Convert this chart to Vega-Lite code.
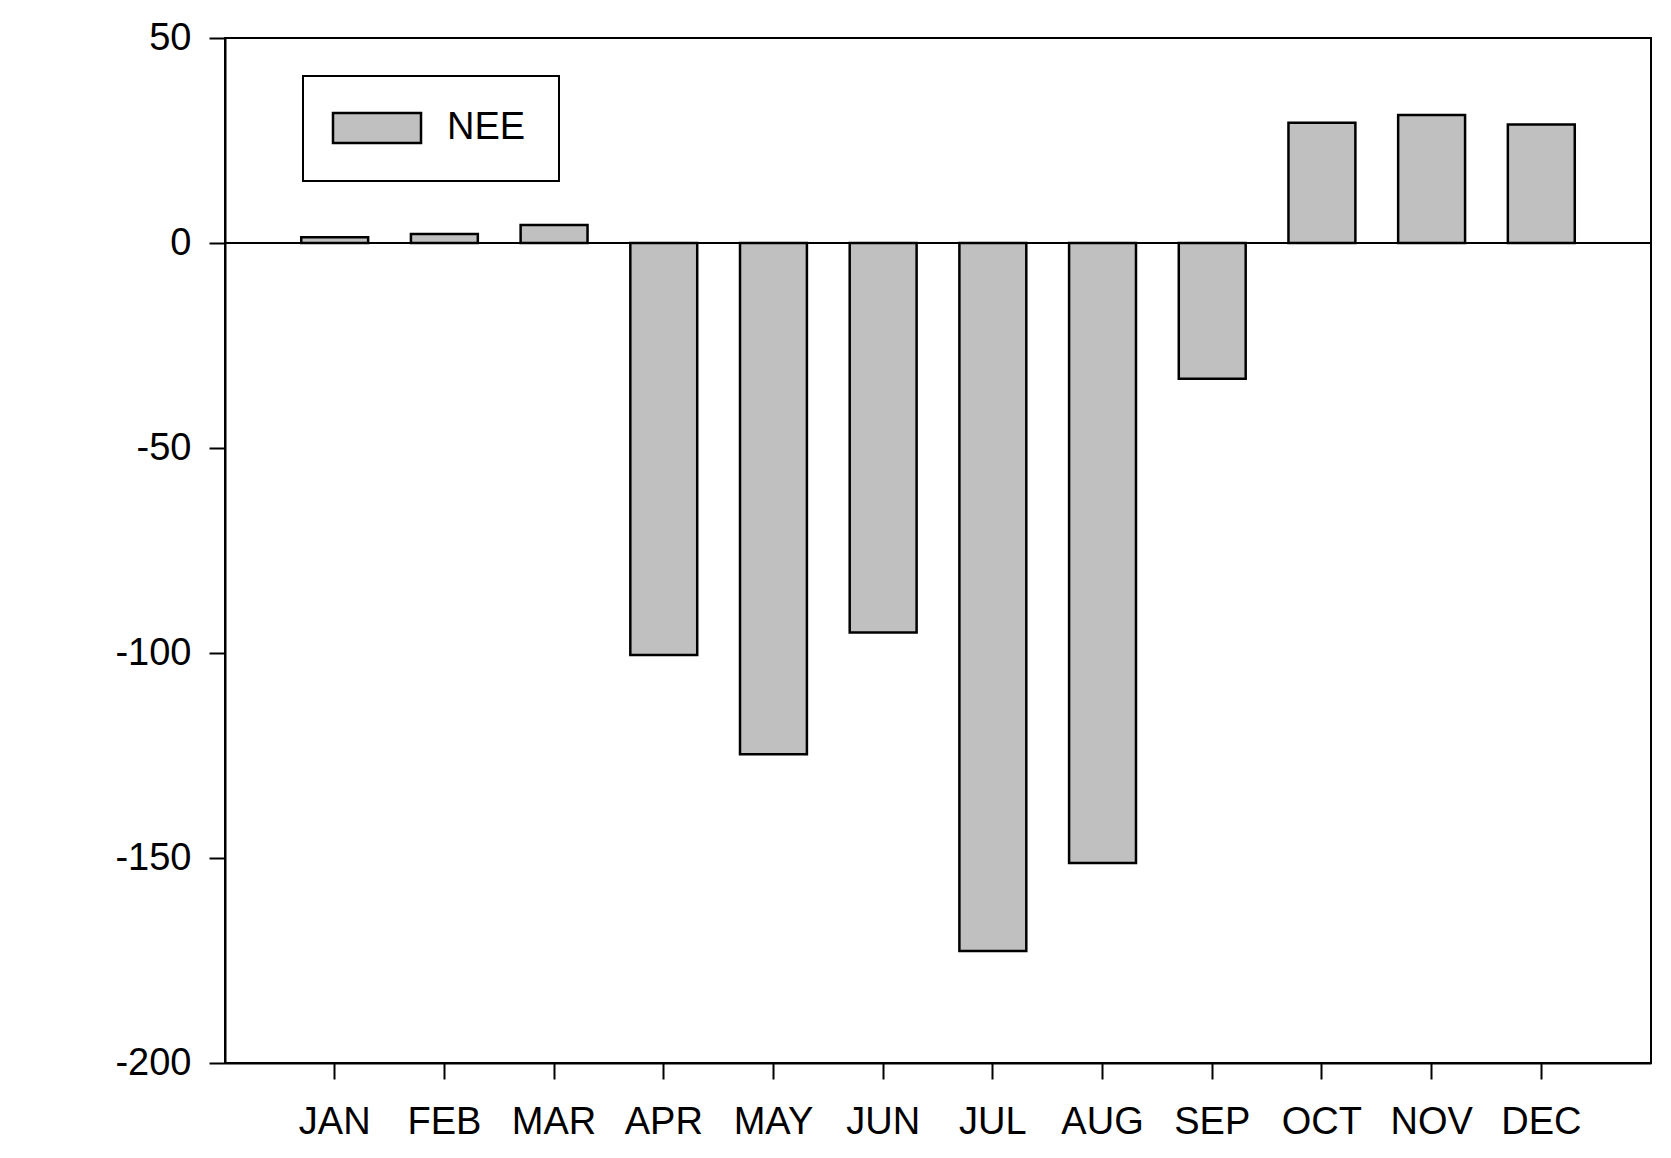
{
  "$schema": "https://vega.github.io/schema/vega-lite/v6.json",
  "autosize": "none",
  "width": 1426,
  "height": 1025,
  "padding": {"left": 225, "top": 38, "right": 20, "bottom": 95},
  "background": "white",
  "config": {
    "font": "Liberation Sans",
    "view": {"stroke": "black", "strokeWidth": 2},
    "legend": {"strokeWidth": 2}
  },
  "data": {
    "values": [
      {"month": "JAN", "NEE": 1.4, "series": "NEE"},
      {"month": "FEB", "NEE": 2.2, "series": "NEE"},
      {"month": "MAR", "NEE": 4.4, "series": "NEE"},
      {"month": "APR", "NEE": -100.5, "series": "NEE"},
      {"month": "MAY", "NEE": -124.7, "series": "NEE"},
      {"month": "JUN", "NEE": -95.0, "series": "NEE"},
      {"month": "JUL", "NEE": -172.7, "series": "NEE"},
      {"month": "AUG", "NEE": -151.2, "series": "NEE"},
      {"month": "SEP", "NEE": -33.1, "series": "NEE"},
      {"month": "OCT", "NEE": 29.3, "series": "NEE"},
      {"month": "NOV", "NEE": 31.2, "series": "NEE"},
      {"month": "DEC", "NEE": 28.9, "series": "NEE"}
    ]
  },
  "layer": [
    {
      "mark": {"type": "bar", "stroke": "black", "strokeWidth": 2.5},
      "encoding": {
        "x": {
          "field": "month",
          "type": "nominal",
          "sort": null,
          "scale": {"paddingInner": 0.39, "paddingOuter": 0.695},
          "axis": {
            "title": null,
            "labelAngle": 0,
            "grid": false,
            "tickSize": 16,
            "tickWidth": 2,
            "tickColor": "black",
            "domainColor": "black",
            "domainWidth": 2,
            "labelFontSize": 38,
            "labelColor": "black",
            "labelPadding": 24
          }
        },
        "y": {
          "field": "NEE",
          "type": "quantitative",
          "scale": {"domain": [-200, 50], "nice": false, "zero": false},
          "axis": {
            "title": null,
            "values": [-200, -150, -100, -50, 0, 50],
            "labelExpr": "datum.value + ''",
            "grid": false,
            "tickSize": 16,
            "tickWidth": 2,
            "tickColor": "black",
            "domainColor": "black",
            "domainWidth": 2,
            "labelFontSize": 38,
            "labelColor": "black",
            "labelPadding": 18
          }
        },
        "color": {
          "field": "series",
          "type": "nominal",
          "scale": {"range": ["#c0c0c0"]},
          "legend": {
            "title": null,
            "orient": "none",
            "legendX": 78,
            "legendY": 38,
            "strokeColor": "black",
            "fillColor": "white",
            "padding": 33,
            "symbolType": "M-1.467,-1H4.4V1H-1.467Z",
            "symbolSize": 900,
            "symbolStrokeColor": "black",
            "symbolStrokeWidth": 2.5,
            "symbolFillColor": "#c0c0c0",
            "symbolOpacity": 1,
            "labelExpr": "datum.label + '\u00a0\u00a0'",
            "labelFontSize": 38,
            "labelColor": "black",
            "labelOffset": 73
          }
        }
      }
    },
    {
      "mark": {"type": "rule", "color": "black", "strokeWidth": 2},
      "encoding": {"y": {"datum": 0}}
    }
  ]
}
